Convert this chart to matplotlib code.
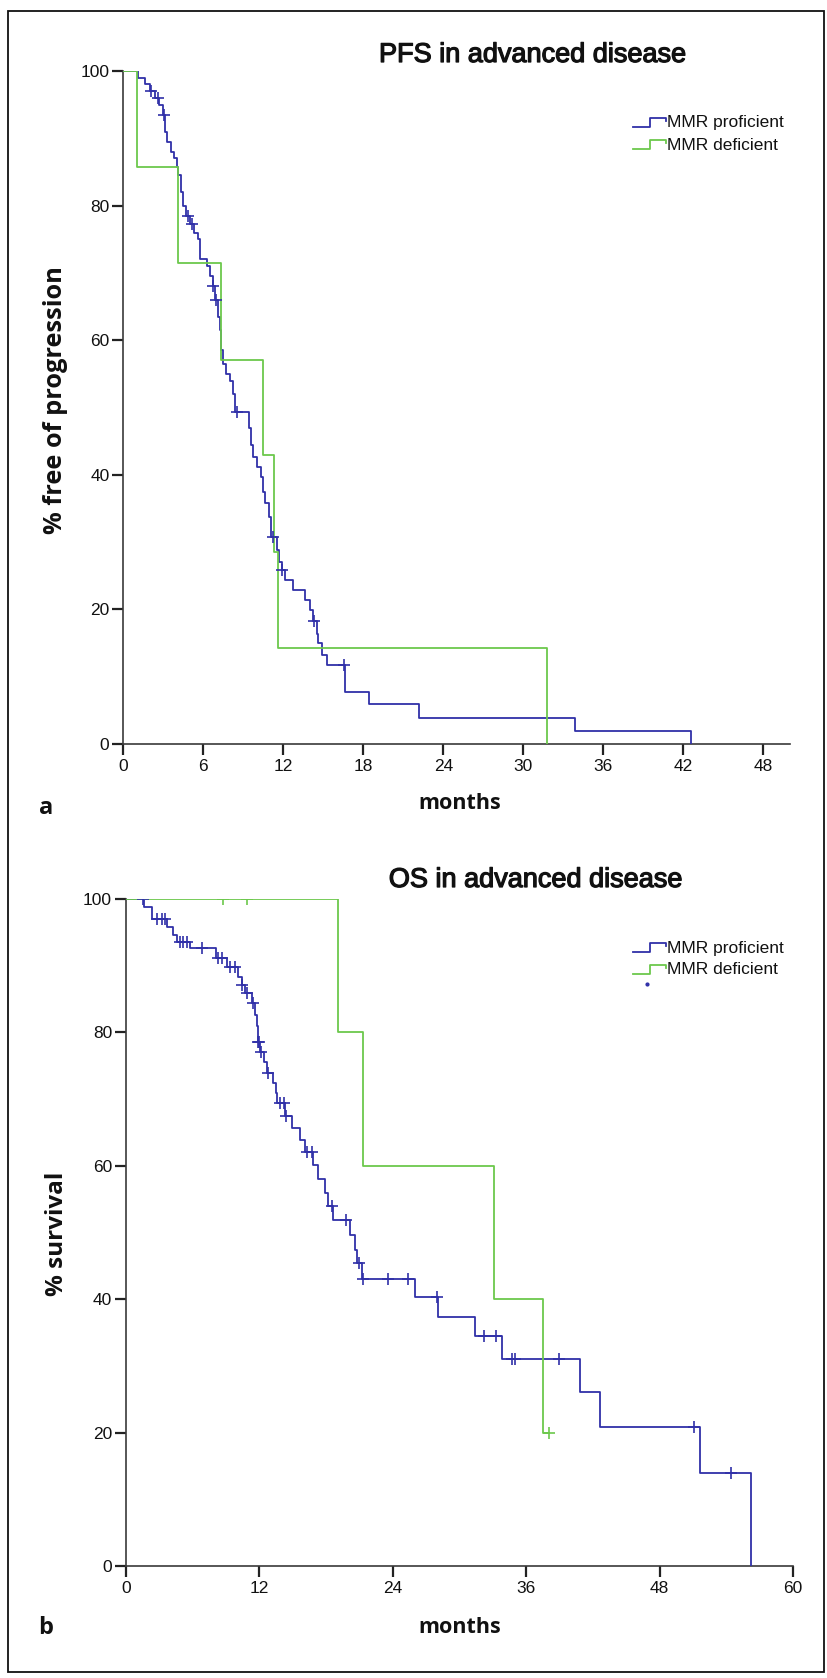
import numpy as np
import matplotlib
matplotlib.use("Agg")
import matplotlib.pyplot as plt
import matplotlib.patheffects as pe
from matplotlib.lines import Line2D
from matplotlib.patches import Rectangle

# ---------------- data ----------------
# Panel a: PFS in advanced disease
pfs_prof_times = [1.1, 1.6, 2.0, 2.4, 2.7, 3.0, 3.1, 3.3, 3.6, 3.8, 4.0, 4.1, 4.3, 4.5,
                  4.7, 5.0, 5.3, 5.6, 5.75, 6.3, 6.5, 6.7, 6.9, 7.1, 7.25, 7.35, 7.5,
                  7.7, 8.0, 8.2, 8.4, 9.4, 9.6, 9.75, 10.0, 10.3, 10.5, 10.6, 10.9,
                  11.1, 11.5, 11.7, 11.9, 12.1, 12.7, 13.6, 14.0, 14.2, 14.5, 14.6,
                  14.9, 15.25, 16.65, 18.45, 22.2, 33.9, 42.6]
pfs_prof_surv = [98.9, 98.0, 97.0, 96.0, 95.0, 93.5, 91.0, 89.5, 88.0, 87.0, 85.8, 84.5,
                 82.0, 80.0, 78.5, 77.3, 76.0, 75.0, 72.0, 71.0, 69.5, 68.0, 66.0, 63.5,
                 61.5, 58.5, 56.5, 55.0, 54.0, 52.0, 49.3, 47.0, 44.5, 42.7, 41.2, 39.7,
                 37.5, 35.8, 33.8, 30.8, 28.8, 27.0, 25.9, 24.4, 22.9, 21.4, 19.9, 18.3,
                 16.4, 15.0, 13.2, 11.7, 7.8, 5.9, 3.9, 2.0, 0.0]
pfs_prof_cens = [2.1, 2.6, 3.07, 4.88, 5.13, 6.75, 6.95, 8.55, 11.25, 11.9, 14.3, 16.55]

pfs_def_times = [1.0, 4.13, 7.33, 10.45, 11.3, 11.6, 31.8]
pfs_def_surv = [85.7, 71.4, 57.1, 42.9, 28.6, 14.3, 0.0]
pfs_def_cens = []

# Panel b: OS in advanced disease
os_prof_times = [1.6, 2.3, 3.66, 4.26, 4.6, 5.76, 8.1, 9.06, 10.11, 10.4, 10.71, 11.31,
                 11.6, 11.76, 11.85, 12.06, 12.4, 12.66, 13.26, 13.45, 13.56, 14.31,
                 14.91, 15.66, 16.11, 16.86, 17.31, 17.91, 18.2, 18.6, 20.16, 20.61,
                 20.76, 21.2, 26.0, 28.1, 31.4, 33.8, 40.86, 42.66, 51.6, 56.2]
os_prof_surv = [98.8, 97.0, 95.8, 94.6, 93.6, 92.6, 91.2, 89.8, 88.3, 87.1, 85.9, 84.4,
                82.6, 80.9, 78.6, 77.1, 75.5, 73.9, 72.4, 70.9, 69.4, 67.4, 65.6, 63.9,
                62.1, 60.1, 58.0, 55.9, 53.9, 51.9, 49.6, 47.4, 45.4, 43.0, 40.4, 37.4,
                34.5, 31.0, 26.1, 20.9, 14.0, 0.0]
os_prof_cens = [1.5, 2.76, 3.21, 3.51, 4.86, 5.16, 5.46, 6.81, 8.31, 8.61, 9.36, 9.81,
                10.45, 10.86, 11.4, 11.91, 12.0, 12.1, 12.81, 13.86, 14.2, 14.4, 16.26,
                16.71, 18.51, 19.8, 21.0, 21.3, 23.6, 25.4, 27.96, 32.2, 33.27, 34.7,
                35.0, 38.97, 51.1, 54.4]

os_def_times = [19.1, 21.36, 33.06, 37.5]
os_def_surv = [80.0, 60.0, 40.0, 20.0]
os_def_cens = [8.7, 10.86, 38.07]

group_labels = ["MMR proficient", "MMR deficient"]
y_ticks = [0, 20, 40, 60, 80, 100]
pfs_x_ticks = [0, 6, 12, 18, 24, 30, 36, 42, 48]
os_x_ticks = [0, 12, 24, 36, 48, 60]

# ---------------- style ----------------
BLUE = "#3030a8"
GREEN = "#6cc84c"
AXC = "#3a3a3a"
W, H = 827, 1678

fig = plt.figure(figsize=(W / 100, H / 100), dpi=100)


def fx(x):
    return x / W


def fy(y):
    return 1 - y / H


def km(ax, times, surv, cens, color):
    tmax = max(times + cens) if cens else max(times)
    xs = [0.0] + list(times) + [tmax]
    ys = [100.0] + list(surv) + [surv[-1]]
    ax.step(xs, ys, where="post", color=color, lw=1.3, zorder=3)
    if cens:
        t_arr = np.array(times)
        s_arr = np.array(surv)
        cy = []
        for c in cens:
            idx = np.searchsorted(t_arr, c, side="right") - 1
            cy.append(100.0 if idx < 0 else s_arr[idx])
        ax.plot(cens, cy, ls="none", marker="+", ms=9, mew=1.2, color=color, zorder=4)


def style_axes(ax, xmax, xticks):
    ax.set_xlim(0, xmax)
    ax.set_ylim(0, 100)
    for s in ["top", "right"]:
        ax.spines[s].set_visible(False)
    for s in ["left", "bottom"]:
        ax.spines[s].set_color(AXC)
        ax.spines[s].set_linewidth(1.2)
    ax.set_xticks(xticks)
    ax.set_yticks(y_ticks)
    ax.tick_params(axis="both", direction="out", length=8, width=1.6, color="#222222",
                   labelsize=12.5, labelcolor="#111111")
    ax.tick_params(axis="y", pad=2)
    ax.tick_params(axis="x", pad=3)
    for lab in ax.get_xticklabels() + ax.get_yticklabels():
        lab.set_fontfamily("Liberation Sans")
    ax.patch.set_alpha(0)


def legend(y1, y2, x0=633):
    for (yc, col, lab) in [(y1, BLUE, group_labels[0]), (y2, GREEN, group_labels[1])]:
        xs = [x0, x0 + 17, x0 + 17, x0 + 33, x0 + 33]
        ys = [yc + 4, yc + 4, yc - 5, yc - 5, yc - 2]
        fig.add_artist(Line2D([fx(v) for v in xs], [fy(v) for v in ys], color=col,
                              lw=1.3, transform=fig.transFigure))
        fig.text(fx(x0 + 34), fy(yc), lab, fontsize=12.5, family="Liberation Sans",
                 ha="left", va="center", color="#111111")


# Panel a
ax1 = fig.add_axes([fx(123.3), fy(744), fx(790) - fx(123.3), fy(71) - fy(744)])
km(ax1, pfs_prof_times, pfs_prof_surv, pfs_prof_cens, BLUE)
km(ax1, pfs_def_times, pfs_def_surv, pfs_def_cens, GREEN)
style_axes(ax1, 50, pfs_x_ticks)

# Panel b
ax2 = fig.add_axes([fx(126), fy(1566), fx(793) - fx(126), fy(899) - fy(1566)])
km(ax2, os_prof_times, os_prof_surv, os_prof_cens, BLUE)
km(ax2, os_def_times, os_def_surv, os_def_cens, GREEN)
style_axes(ax2, 60, os_x_ticks)

# titles
thick = [pe.withStroke(linewidth=0.9, foreground="#111111")]
fig.text(fx(533), fy(55), "PFS in advanced disease", fontsize=19.5,
         family="Liberation Sans", ha="center", va="center", color="#111111",
         path_effects=thick)
fig.text(fx(536), fy(880), "OS in advanced disease", fontsize=19.5,
         family="Liberation Sans", ha="center", va="center", color="#111111",
         path_effects=thick)

# legends
legend(123, 145)
legend(948, 970)
fig.add_artist(Line2D([fx(647)], [fy(984)], marker="o", ms=2, color=BLUE, ls="none",
                      transform=fig.transFigure))

# axis labels
lab_kw = dict(family="Open Sans", weight="bold", color="#111111")
fig.text(fx(460), fy(809), "months", fontsize=15.5, ha="center", va="baseline", **lab_kw)
fig.text(fx(460), fy(1633), "months", fontsize=15.5, ha="center", va="baseline", **lab_kw)
fig.text(fx(56), fy(400), "% free of progression", fontsize=18.3, rotation=90,
         ha="center", va="center", **lab_kw)
fig.text(fx(57), fy(1234), "% survival", fontsize=17.5, rotation=90,
         ha="center", va="center", **lab_kw)

# panel letters
fig.text(fx(46), fy(814), "a", fontsize=17, ha="center", va="baseline", **lab_kw)
fig.text(fx(46), fy(1634), "b", fontsize=17, ha="center", va="baseline", **lab_kw)

# outer frame
fig.add_artist(Rectangle((fx(8), fy(1672)), fx(824) - fx(8), fy(11) - fy(1672),
                         fill=False, ec="#111111", lw=1.3, transform=fig.transFigure))

fig.savefig("out.png", dpi=100, facecolor="white")
